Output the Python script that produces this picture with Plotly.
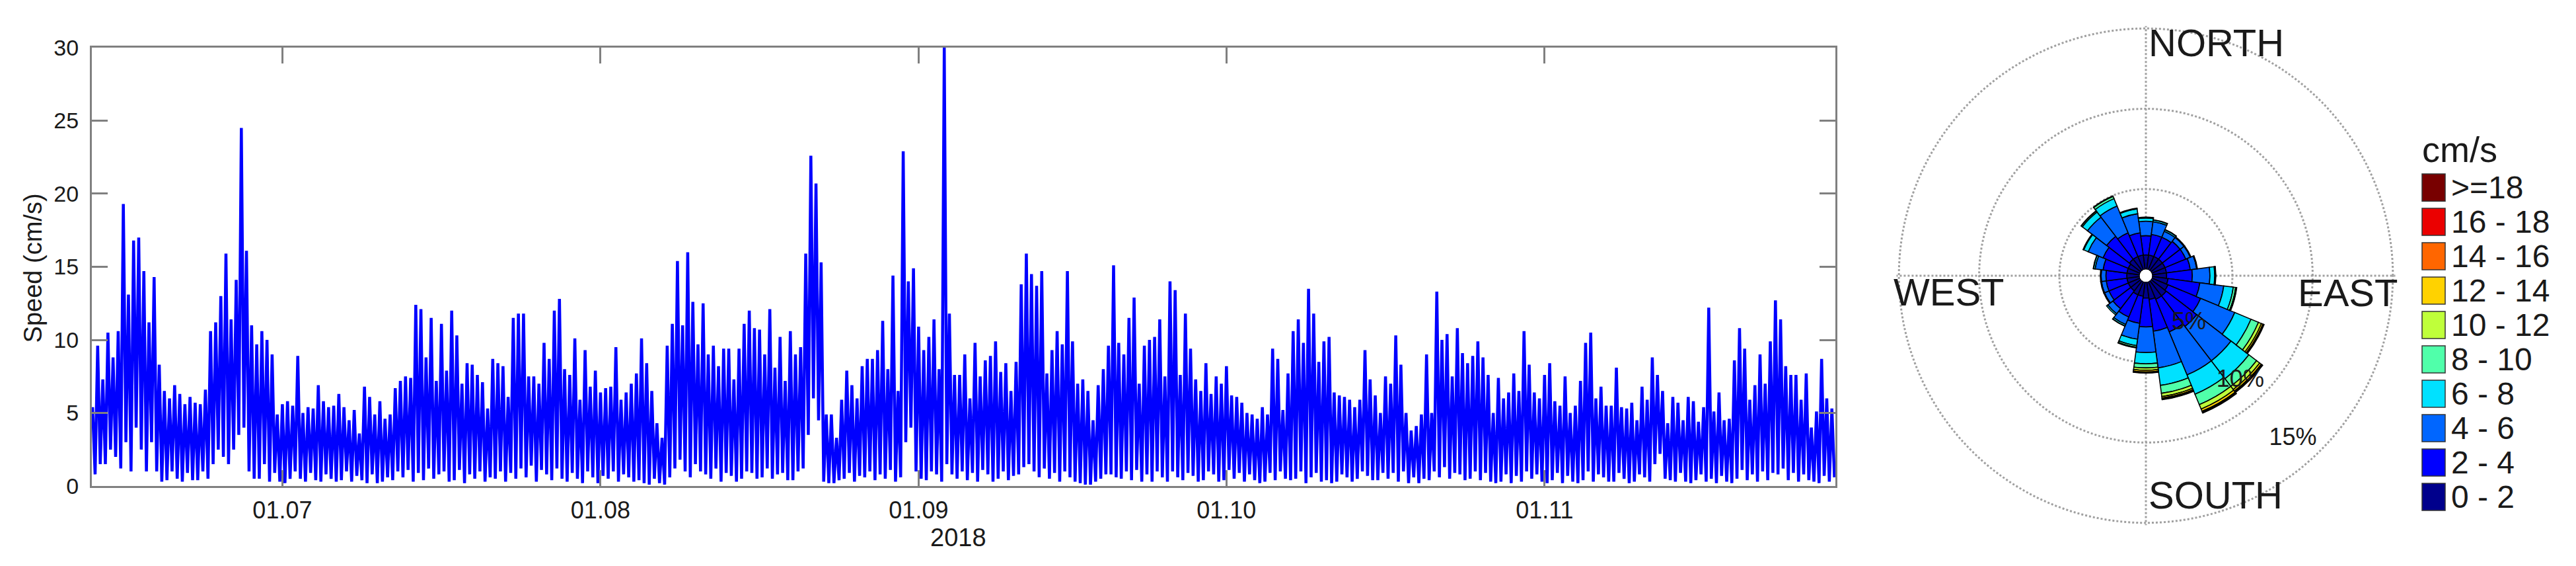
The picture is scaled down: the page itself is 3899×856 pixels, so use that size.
import plotly.graph_objects as go
import pandas as pd

# ---------------- speed time series (cm/s) ----------------
# two peaks per day, two troughs per day, starting 2018-06-12 midday, 6-hourly
peaks_a = [5.4, 9.6, 7.3, 10.5, 8.8, 10.6, 19.3, 13.1, 16.8, 17.0, 14.7, 11.2, 14.3, 8.3,
           6.5, 6.0, 6.9, 6.3, 5.6, 6.1, 5.7, 5.6, 6.6, 10.6, 11.2, 13.0, 15.9, 11.4,
           14.1, 24.5, 16.1, 11.0, 9.7, 10.6, 10.0, 9.0, 4.9, 5.6, 5.8, 5.5, 8.9, 5.0,
           5.4, 5.3, 6.9, 5.8, 5.4, 5.5, 6.3, 5.4, 4.5, 5.2, 3.6, 6.8, 6.1, 4.9,
           5.8, 4.6, 4.9, 6.7, 7.2, 7.5, 7.4, 12.4, 12.1, 8.8, 11.5, 7.2, 11.1, 7.9,
           12.0, 10.3, 7.0, 8.4, 8.3, 7.6, 7.1, 5.3, 8.7, 8.4, 8.2, 6.1, 11.5, 11.8]
troughs_a = [0.8, 1.5, 1.5, 2.5, 2.0, 1.2, 3.0, 1.0, 4.0, 2.5, 1.0, 3.0, 1.0, 0.3,
             0.4, 1.0, 0.5, 0.3, 0.9, 0.4, 0.4, 1.0, 0.5, 1.5, 2.5, 2.0, 1.5, 2.5,
             3.5, 4.0, 1.0, 0.5, 0.5, 1.5, 0.3, 0.9, 0.3, 0.2, 0.5, 1.0, 0.5, 0.3,
             0.9, 0.4, 0.3, 0.8, 0.5, 0.3, 0.4, 1.0, 0.3, 0.7, 0.4, 0.2, 0.8, 0.2,
             0.3, 0.6, 0.4, 1.0, 0.6, 1.1, 0.3, 0.9, 0.4, 1.2, 0.5, 0.8, 1.0, 0.3,
             0.4, 1.1, 0.2, 0.8, 0.5, 1.0, 0.3, 0.6, 0.5, 1.0, 0.3, 0.9, 0.5, 1.2]

peaks_b = [11.8, 7.5, 7.5, 7.0, 9.8, 8.7, 12.0, 12.8, 8.0, 7.6, 10.1, 5.9, 9.3, 6.8,
           7.9, 6.4, 6.7, 6.8, 9.5, 5.9, 6.4, 7.0, 7.7, 10.1, 8.4, 6.5, 4.3, 3.3,
           9.6, 11.1, 15.4, 11.0, 16.0, 12.6, 9.7, 12.5, 9.0, 9.6, 8.2, 9.4, 9.4, 7.3,
           9.4, 11.1, 12.0, 10.8, 10.7, 9.0, 12.1, 8.1, 10.2, 7.2, 10.6, 9.0, 9.5, 15.9,
           22.6, 20.7, 15.3, 4.9, 4.9, 3.3, 5.9, 7.9, 6.9, 6.0, 8.2, 8.7, 8.7, 9.3,
           11.3, 8.0, 14.4, 6.5, 22.9, 14.0, 14.9, 10.9, 9.3, 10.2, 11.4, 8.0, 30.0, 11.8]
troughs_b = [0.6, 1.4, 0.3, 1.1, 0.8, 0.4, 1.2, 0.5, 0.3, 0.9, 0.5, 0.2, 1.0, 0.6,
             0.2, 0.7, 0.5, 1.0, 0.3, 0.8, 0.6, 0.3, 0.4, 0.2, 0.1, 0.5, 0.2, 0.1,
             0.6, 1.2, 1.8, 1.0, 0.6, 1.5, 1.0, 0.8, 0.5, 1.2, 0.3, 0.9, 0.7, 0.3,
             0.5, 1.0, 0.9, 0.5, 0.6, 1.2, 0.5, 0.8, 0.9, 0.4, 0.4, 1.0, 1.2, 3.5,
             6.0, 4.5, 0.3, 0.2, 0.2, 0.4, 0.5, 0.9, 0.3, 0.7, 0.6, 1.0, 0.4, 0.8,
             0.5, 1.1, 0.3, 0.6, 3.0, 4.0, 1.0, 0.5, 0.4, 1.0, 0.8, 0.3, 1.5, 0.8]

peaks_c = [7.6, 7.6, 9.0, 6.0, 9.8, 7.5, 8.6, 8.9, 9.9, 7.8, 8.4, 6.5, 8.5, 13.8,
           15.9, 14.5, 13.7, 14.7, 7.7, 9.3, 10.6, 9.7, 14.7, 9.9, 7.0, 7.3, 6.5, 4.5,
           6.9, 8.0, 9.6, 15.1, 9.8, 9.0, 11.5, 12.9, 7.0, 9.6, 10.0, 10.2, 11.4, 7.5,
           14.0, 13.4, 7.6, 11.8, 9.4, 7.3, 6.5, 8.4, 6.3, 7.5, 7.0, 8.2, 6.2, 6.1,
           5.7, 5.0, 4.9, 4.6, 5.4, 4.9, 9.4, 8.7, 5.2, 7.7, 10.6, 11.4, 9.8, 13.5,
           11.8, 8.5, 9.9, 10.2, 6.4, 6.2, 6.1, 5.9, 5.4, 5.9, 9.3, 7.3, 6.2, 5.0]
troughs_c = [0.5, 1.0, 0.4, 0.9, 0.3, 1.1, 0.8, 0.3, 0.5, 1.0, 0.4, 0.7, 0.8, 1.3,
             1.5, 1.0, 0.6, 1.2, 0.5, 0.9, 0.3, 1.0, 0.6, 0.3, 0.2, 0.1, 0.1, 0.3,
             0.5, 0.8, 0.8, 0.6, 0.5, 1.0, 0.4, 1.1, 0.3, 0.8, 0.3, 1.0, 0.6, 0.3,
             1.0, 0.6, 0.4, 0.9, 0.7, 0.3, 0.4, 1.0, 0.8, 0.3, 0.4, 1.1, 0.5, 0.9,
             0.3, 0.8, 0.4, 0.2, 0.3, 0.9, 0.4, 1.0, 0.5, 0.4, 0.5, 1.0, 0.2, 0.6,
             0.9, 0.3, 0.4, 0.2, 0.3, 0.8, 0.6, 0.3, 0.5, 1.0, 0.7, 0.4, 0.4, 0.9]

peaks_d = [7.5, 7.0, 10.3, 8.3, 5.0, 3.8, 4.1, 4.9, 9.0, 5.0, 13.3, 10.0, 10.4, 7.5,
           10.8, 9.1, 8.4, 8.9, 9.9, 8.8, 7.6, 5.0, 7.4, 6.0, 6.4, 7.7, 6.5, 10.6,
           8.3, 6.4, 6.0, 7.6, 8.4, 5.8, 5.5, 7.5, 5.0, 5.5, 7.2, 9.8, 10.5, 6.0,
           6.8, 5.5, 5.5, 8.1, 5.4, 5.3, 5.7, 4.5, 6.8, 5.9, 8.8, 7.6, 6.5, 4.3,
           6.1, 5.7, 4.5, 6.1, 5.8, 4.4, 5.4, 12.2, 5.1, 6.4, 4.5, 4.6, 8.6, 10.8,
           9.4, 5.9, 6.9, 9.0, 7.0, 9.9, 12.7, 11.4, 8.2, 7.6, 7.6, 5.9, 7.7, 4.0,
           5.1, 8.7, 6.0, 5.3]
troughs_d = [0.5, 0.9, 0.3, 1.0, 0.2, 0.6, 0.2, 0.5, 0.4, 1.0, 0.6, 1.3, 0.5, 0.9,
             0.8, 0.4, 0.5, 1.0, 0.4, 0.9, 0.3, 0.2, 0.3, 0.8, 0.2, 0.7, 0.3, 1.0,
             0.5, 0.8, 0.3, 0.2, 0.4, 0.9, 0.2, 0.7, 0.3, 0.2, 0.4, 1.0, 0.3, 0.8,
             0.6, 0.3, 0.3, 0.9, 0.5, 0.2, 0.3, 0.8, 0.6, 0.3, 1.5, 2.2, 0.5, 0.4,
             0.3, 0.9, 0.3, 0.2, 0.4, 0.8, 0.3, 0.5, 0.2, 0.7, 0.3, 0.2, 0.5, 1.1,
             0.4, 0.8, 0.3, 1.0, 0.4, 0.9, 0.8, 1.2, 0.4, 0.9, 0.3, 0.8, 0.4, 0.3,
             0.2, 0.7, 0.3, 0.6]

peaks = peaks_a + peaks_b + peaks_c + peaks_d
troughs = troughs_a + troughs_b + troughs_c + troughs_d
speed = []
for p, t in zip(peaks, troughs):
    speed += [p, t]
times = pd.date_range("2018-06-12 12:00", periods=len(speed), freq="6h")

month_ticks = ["2018-07-01", "2018-08-01", "2018-09-01", "2018-10-01", "2018-11-01"]
month_labels = ["01.07", "01.08", "01.09", "01.10", "01.11"]

# ---------------- current rose: % of records per 15 deg sector and speed class ----------------
directions = list(range(0, 360, 15))
bin_labels = ["0 - 2", "2 - 4", "4 - 6", "6 - 8", "8 - 10", "10 - 12",
              "12 - 14", "14 - 16", "16 - 18", ">=18"]
bin_colors = ["#00008c", "#0000ff", "#0066ff", "#00e1ff", "#50ffaa",
              "#bfff3a", "#ffd200", "#ff6600", "#eb0000", "#780000"]

freq_0_2 = [0.9, 0.9, 0.9, 0.9, 0.9, 0.9, 0.9, 1.0, 1.1, 1.2, 1.2, 1.1,
            1.0, 0.9, 0.9, 0.8, 0.8, 0.8, 0.8, 0.8, 0.8, 0.9, 0.9, 0.9]
freq_2_4 = [1.2, 1.3, 1.3, 1.4, 1.4, 1.5, 1.6, 2.0, 2.2, 2.4, 2.2, 2.0,
            1.8, 1.7, 1.5, 1.4, 1.3, 1.3, 1.3, 1.5, 1.7, 1.8, 1.6, 1.4]
freq_4_6 = [0.9, 0.8, 0.4, 0.3, 0.3, 0.4, 1.1, 1.5, 2.3, 2.7, 2.9, 2.3,
            1.6, 1.0, 0.5, 0.4, 0.3, 0.3, 0.3, 0.5, 1.0, 1.5, 1.8, 1.2]
freq_6_8 = [0.2, 0.1, 0.1, 0.05, 0.05, 0.05, 0.3, 0.6, 1.1, 1.4, 1.3, 1.1,
            0.7, 0.4, 0.1, 0.1, 0.05, 0.05, 0.05, 0.1, 0.3, 0.4, 0.5, 0.3]
freq_8_10 = [0.05, 0.02, 0.02, 0.0, 0.0, 0.0, 0.05, 0.15, 0.5, 0.6, 0.7, 0.5,
             0.25, 0.1, 0.02, 0.0, 0.0, 0.0, 0.0, 0.02, 0.05, 0.08, 0.15, 0.05]
freq_10_12 = [0.0, 0.0, 0.0, 0.0, 0.0, 0.0, 0.02, 0.05, 0.2, 0.25, 0.3, 0.2,
              0.15, 0.03, 0.0, 0.0, 0.0, 0.0, 0.0, 0.0, 0.0, 0.02, 0.03, 0.0]
freq_12_14 = [0.0, 0.0, 0.0, 0.0, 0.0, 0.0, 0.0, 0.02, 0.1, 0.12, 0.15, 0.1,
              0.1, 0.02, 0.0, 0.0, 0.0, 0.0, 0.0, 0.0, 0.0, 0.0, 0.0, 0.0]
freq_14_16 = [0.0, 0.0, 0.0, 0.0, 0.0, 0.0, 0.0, 0.0, 0.04, 0.05, 0.06, 0.05,
              0.03, 0.0, 0.0, 0.0, 0.0, 0.0, 0.0, 0.0, 0.0, 0.0, 0.0, 0.0]
freq_16_18 = [0.0, 0.0, 0.0, 0.0, 0.0, 0.0, 0.0, 0.0, 0.02, 0.03, 0.03, 0.03,
              0.02, 0.0, 0.0, 0.0, 0.0, 0.0, 0.0, 0.0, 0.0, 0.0, 0.0, 0.0]
freq_18_up = [0.0, 0.0, 0.0, 0.0, 0.0, 0.0, 0.0, 0.0, 0.02, 0.03, 0.03, 0.02,
              0.02, 0.0, 0.0, 0.0, 0.0, 0.0, 0.0, 0.0, 0.0, 0.0, 0.0, 0.0]
rose_freqs = [freq_0_2, freq_2_4, freq_4_6, freq_6_8, freq_8_10,
              freq_10_12, freq_12_14, freq_14_16, freq_16_18, freq_18_up]

ring_labels = ["5%", "10%", "15%"]
ring_label_r = [3.6, 8.4, 13.3]

FONT = "Liberation Sans, Arial, sans-serif"
W, H = 3899, 856

fig = go.Figure()

fig.add_trace(go.Scatter(
    x=times, y=speed, mode="lines",
    line=dict(color="#0000ff", width=4.5),
    showlegend=False, hoverinfo="skip",
))

for vals, name, col in zip(rose_freqs, bin_labels, bin_colors):
    fig.add_trace(go.Barpolar(
        r=vals, theta=directions, width=[15] * len(directions),
        name=name, marker=dict(color=col, line=dict(color="black", width=1.6)),
        showlegend=False,
    ))

fig.add_trace(go.Scatterpolar(
    r=ring_label_r, theta=[138] * 3, mode="text", text=ring_labels,
    textfont=dict(family=FONT, size=36, color="#1a1a1a"),
    showlegend=False, hoverinfo="skip",
))

# rose placement (pixels): centre and outer radius
cx, cy, R = 3240, 408, 395

axis_grey = "#808080"
fig.update_layout(
    width=W, height=H,
    margin=dict(l=0, r=0, t=0, b=0),
    paper_bgcolor="white", plot_bgcolor="white",
    font=dict(family=FONT, color="#1a1a1a"),
    xaxis=dict(
        domain=[131 / W, 2770 / W],
        range=["2018-06-12 10:20", "2018-11-29 08:10"],
        tickvals=month_ticks, ticktext=month_labels,
        ticks="inside", ticklen=24, tickwidth=3, tickcolor=axis_grey,
        showline=True, linecolor=axis_grey, linewidth=3, mirror="ticks",
        showgrid=False, zeroline=False,
        tickfont=dict(size=36, family=FONT, color="#1a1a1a"),
        ticklabelstandoff=3,
    ),
    yaxis=dict(
        domain=[(H - 741) / H, (H - 47) / H],
        range=[0, 30], dtick=5,
        ticks="inside", ticklen=24, tickwidth=3, tickcolor=axis_grey,
        showline=True, linecolor=axis_grey, linewidth=3, mirror="ticks",
        showgrid=False, zeroline=False,
        tickfont=dict(size=34, family=FONT, color="#1a1a1a"),
        ticklabelstandoff=10,
    ),
    polar=dict(
        domain=dict(x=[(cx - R) / W, (cx + R) / W],
                    y=[(H - cy - R) / H, (H - cy + R) / H]),
        hole=10 / R,
        bgcolor="white",
        barmode="stack", bargap=0,
        radialaxis=dict(range=[0, 15.15], tickvals=[5, 10, 15], showticklabels=False,
                        ticks="", showline=False, gridcolor="#a0a0a0", griddash="dot",
                        gridwidth=2.5, layer="below traces"),
        angularaxis=dict(rotation=90, direction="clockwise", tickvals=[0, 90, 180, 270],
                         showticklabels=False, ticks="", showline=False,
                         gridcolor="#a0a0a0", griddash="dot", gridwidth=2.5,
                         layer="below traces"),
    ),
)

annotations = [
    dict(text="2018", x=1442 / W, y=(H - 822) / H, xanchor="center", yanchor="middle",
         font=dict(size=38)),
    dict(text="Speed (cm/s)", x=42 / W, y=(H - 396) / H, textangle=-90,
         xanchor="center", yanchor="middle", font=dict(size=38)),
    dict(text="NORTH", x=3242 / W, y=(H - 39) / H, xanchor="left", yanchor="middle",
         font=dict(size=58)),
    dict(text="SOUTH", x=3242 / W, y=(H - 755) / H, xanchor="left", yanchor="middle",
         font=dict(size=58)),
    dict(text="WEST", x=2856 / W, y=(H - 434) / H, xanchor="left", yanchor="middle",
         font=dict(size=58)),
    dict(text="EAST", x=3468 / W, y=(H - 435) / H, xanchor="left", yanchor="middle",
         font=dict(size=58)),
    dict(text="cm/s", x=3656 / W, y=(H - 208) / H, xanchor="left", yanchor="middle",
         font=dict(size=54)),
]

shapes = []
rows = list(zip(bin_labels, bin_colors))[::-1]
for i, (lab, col) in enumerate(rows):
    top = 247 + 54.4 * i
    shapes.append(dict(type="rect", xref="paper", yref="paper",
                       x0=3658 / W, x1=3693 / W, y0=(H - top - 43) / H, y1=(H - top) / H,
                       fillcolor=col, line=dict(color="#333333", width=1.5)))
    annotations.append(dict(text=lab, x=3700 / W, y=(H - top - 21.5) / H,
                            xanchor="left", yanchor="middle", font=dict(size=48)))

for a in annotations:
    a.update(xref="paper", yref="paper", showarrow=False)
fig.update_layout(annotations=annotations, shapes=shapes)

fig.write_html("out.html")
